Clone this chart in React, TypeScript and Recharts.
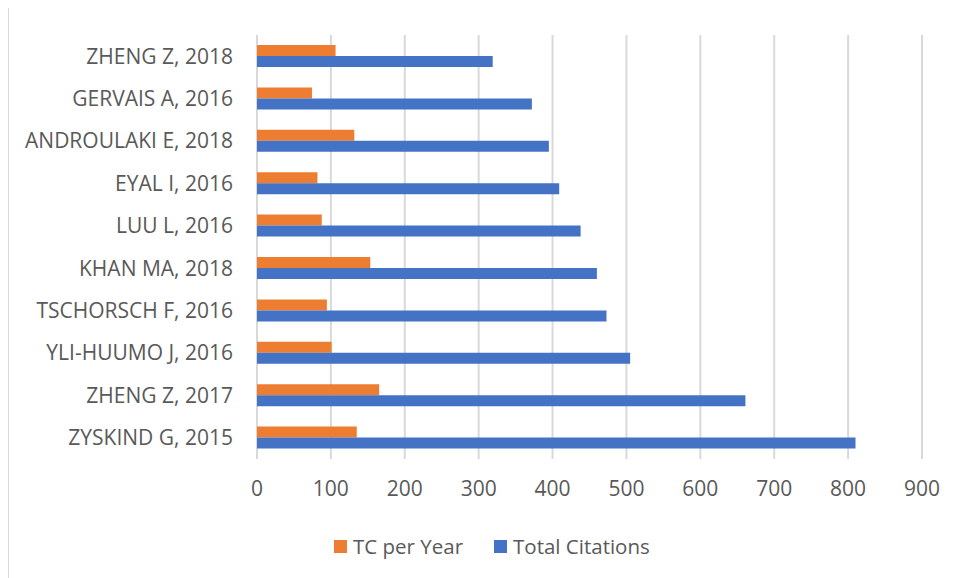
import { Bar, BarChart, CartesianGrid, XAxis, YAxis } from "recharts";

const authors = [
    "ZHENG Z, 2018",
    "GERVAIS A, 2016",
    "ANDROULAKI E, 2018",
    "EYAL I, 2016",
    "LUU L, 2016",
    "KHAN MA, 2018",
    "TSCHORSCH F, 2016",
    "YLI-HUUMO J, 2016",
    "ZHENG Z, 2017",
    "ZYSKIND G, 2015",
];
const tcPerYear = [106.3, 74.4, 131.7, 81.8, 87.6, 153.3, 94.6, 101, 165.3, 135];
const totalCitations = [319, 372, 395, 409, 438, 460, 473, 505, 661, 810];
const xTicks = [0, 100, 200, 300, 400, 500, 600, 700, 800, 900];

const seriesNames = ["TC per Year", "Total Citations"];
const seriesColors = ["#ED7D31", "#4472C4"];

const font = "'Open Sans', sans-serif";
const textColor = "#595959";

const App = () => {
    const data = authors.map((a, i) => ({
        author: a,
        tc: tcPerYear[i],
        total: totalCitations[i],
    }));

    return (
        <div
            style={{
                position: "relative",
                marginTop: -3,
                width: 950,
                height: 573,
                borderTop: "1px solid #d9d9d9",
                borderLeft: "1px solid #d9d9d9",
                boxSizing: "border-box",
                fontFamily: font,
            }}
        >
            <BarChart
                width={949}
                height={569}
                data={data}
                layout="vertical"
                margin={{ top: 29, right: 36, bottom: 66, left: 0 }}
                barGap={0}
            >
                <CartesianGrid
                    horizontal={false}
                    vertical={true}
                    stroke="#d9d9d9"
                    strokeWidth={2}
                />
                <XAxis
                    type="number"
                    domain={[0, 900]}
                    ticks={xTicks}
                    axisLine={false}
                    tickLine={false}
                    tickSize={0}
                    tickMargin={22}
                    height={50}
                    tick={{ fill: textColor, fontSize: 21, fontFamily: font }}
                />
                <YAxis
                    type="category"
                    dataKey="author"
                    width={248}
                    axisLine={false}
                    tickLine={false}
                    tickSize={0}
                    tickMargin={24}
                    interval={0}
                    tick={{ fill: textColor, fontSize: 21, fontFamily: font }}
                />
                <Bar dataKey="tc" name={seriesNames[0]} fill={seriesColors[0]} barSize={11} isAnimationActive={false} />
                <Bar dataKey="total" name={seriesNames[1]} fill={seriesColors[1]} barSize={11} isAnimationActive={false} />
            </BarChart>
            <div
                style={{
                    position: "absolute",
                    left: 325,
                    top: 528,
                    display: "flex",
                    alignItems: "center",
                    fontSize: 20.5,
                    color: textColor,
                    lineHeight: "24px",
                }}
            >
                {seriesNames.map((n, i) => (
                    <div key={n} style={{ display: "flex", alignItems: "center", marginRight: 31 }}>
                        <span
                            style={{
                                display: "inline-block",
                                width: 13,
                                height: 13,
                                background: seriesColors[i],
                                marginRight: 6,
                            }}
                        />
                        <span>{n}</span>
                    </div>
                ))}
            </div>
        </div>
    );
};

export default App;
